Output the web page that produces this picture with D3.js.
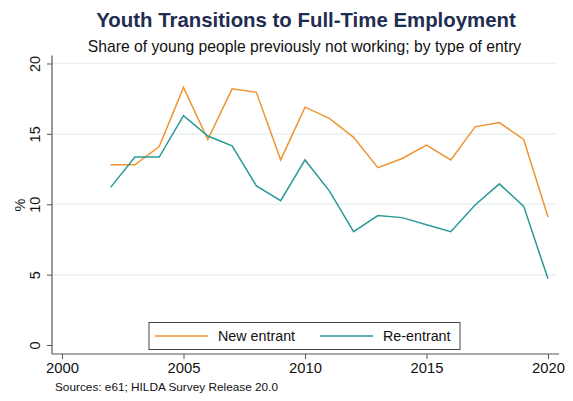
<!DOCTYPE html>
<html><head><meta charset="utf-8">
<script src="https://cdn.jsdelivr.net/npm/d3@7"></script>
<style>body{margin:0;background:#fff}svg{display:block;font-family:"Liberation Sans",Arial,sans-serif}</style>
</head><body><svg id="c" width="573" height="401"></svg>
<script>
const years = [2002,2003,2004,2005,2006,2007,2008,2009,2010,2011,2012,2013,2014,2015,2016,2017,2018,2019,2020];
const newEntrant = [12.8,12.8,14.1,18.3,14.6,18.2,17.95,13.15,16.9,16.1,14.75,12.6,13.25,14.2,13.15,15.5,15.8,14.6,9.1];
const reEntrant = [11.2,13.35,13.35,16.3,14.85,14.15,11.3,10.25,13.15,10.95,8.05,9.2,9.05,8.55,8.05,9.95,11.45,9.85,4.7];
const xTicks = [2000,2005,2010,2015,2020];
const yTicks = [0,5,10,15,20];
const seriesNames = ["New entrant","Re-entrant"];
const colors = ["#ee9530","#2a9a96"];

const svg = d3.select("#c");
const x = d3.scaleLinear().domain([2000,2020]).range([62,548]);
const y = d3.scaleLinear().domain([0,20]).range([345,63.5]);

// title
svg.append("text").attr("x",306).attr("y",27).attr("text-anchor","middle")
  .attr("font-size",20.4).attr("font-weight","bold").attr("fill","#1f2d50")
  .text("Youth Transitions to Full-Time Employment");
svg.append("text").attr("x",304.5).attr("y",51.5).attr("text-anchor","middle")
  .attr("font-size",15.7).attr("fill","#111")
  .text("Share of young people previously not working; by type of entry");

// gridlines
svg.append("g").selectAll("line").data(yTicks.filter(d=>d>0)).join("line")
  .attr("x1",53).attr("x2",557).attr("y1",d=>y(d)).attr("y2",d=>y(d))
  .attr("stroke","#e8f0f2").attr("stroke-width",1.5);

// y axis
const yAxis = svg.append("g").attr("transform","translate(52,0)")
  .call(d3.axisLeft(y).tickValues(yTicks).tickSize(5).tickPadding(0).tickFormat(d3.format("d")));
yAxis.select(".domain").attr("d",`M0,${y(20)-8}V354`).attr("stroke","#555").attr("stroke-width",1.2);
yAxis.selectAll(".tick line").attr("stroke","#555");
yAxis.selectAll(".tick text").attr("font-size",14.5).attr("fill","#111")
  .attr("text-anchor","middle").attr("transform","translate(-12,0) rotate(-90)").attr("dy","0").attr("x",0).attr("y",0);

// x axis
const xAxis = svg.append("g").attr("transform","translate(0,354)")
  .call(d3.axisBottom(x).tickValues(xTicks).tickSize(5).tickPadding(3).tickFormat(d3.format("d")));
xAxis.select(".domain").attr("d","M52,0H559").attr("stroke","#555").attr("stroke-width",1.2);
xAxis.selectAll(".tick line").attr("stroke","#555");
xAxis.selectAll(".tick text").attr("font-size",14.8).attr("fill","#111");

// y label
svg.append("text").attr("transform","translate(25,205) rotate(-90)").attr("text-anchor","middle")
  .attr("font-size",14.5).attr("fill","#111").text("%");

// lines
const line = d3.line().x((d,i)=>x(years[i])).y(d=>y(d));
[newEntrant, reEntrant].forEach((s,k)=>{
  svg.append("path").datum(s).attr("d",line).attr("fill","none")
    .attr("stroke",colors[k]).attr("stroke-width",1.5).attr("stroke-linejoin","miter");
});

// legend
const lg = svg.append("g");
lg.append("rect").attr("x",149).attr("y",322.5).attr("width",311).attr("height",27)
  .attr("fill","#fff").attr("stroke","#444").attr("stroke-width",1);
const lx = [[155,208,218],[320,373,383]];
seriesNames.forEach((n,k)=>{
  lg.append("line").attr("x1",lx[k][0]).attr("x2",lx[k][1]).attr("y1",336).attr("y2",336)
    .attr("stroke",colors[k]).attr("stroke-width",1.6);
  lg.append("text").attr("x",lx[k][2]).attr("y",341).attr("font-size",14.3).attr("fill","#111").text(n);
});

// source
svg.append("text").attr("x",55).attr("y",391).attr("font-size",11.8).attr("fill","#111")
  .text("Sources: e61; HILDA Survey Release 20.0");
</script></body></html>
